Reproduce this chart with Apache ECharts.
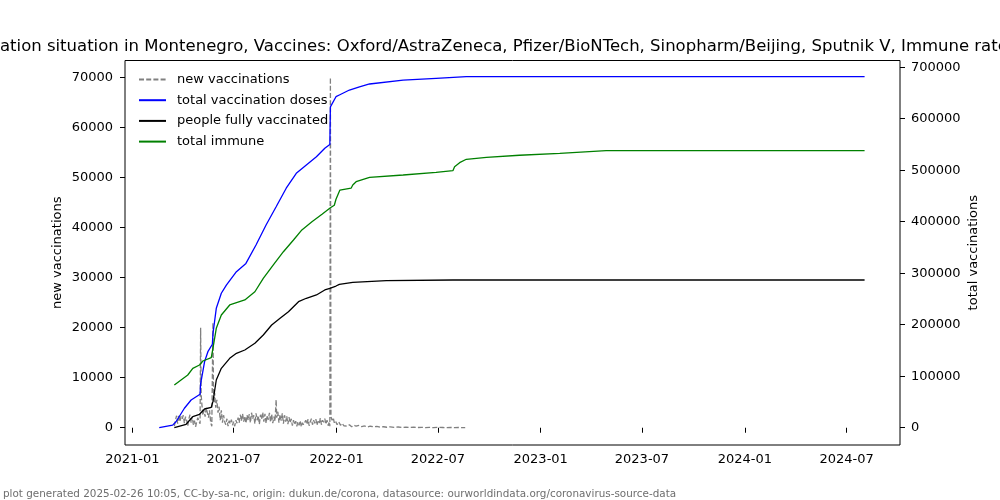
<!DOCTYPE html>
<html>
<head>
<meta charset="utf-8">
<script src="https://cdn.jsdelivr.net/npm/echarts@6/dist/echarts.min.js"></script>
<style>html,body{margin:0;padding:0;background:#fff}#c{width:1000px;height:500px}</style>
</head>
<body>
<div id="c"></div>
<script>
const titleText = 'Vaccination situation in Montenegro, Vaccines: Oxford/AstraZeneca, Pfizer/BioNTech, Sinopharm/Beijing, Sputnik V, Immune rate: 87%';
const footerText = 'plot generated 2025-02-26 10:05, CC-by-sa-nc, origin: dukun.de/corona, datasource: ourworldindata.org/coronavirus-source-data';
const seriesNames = ['new vaccinations', 'total vaccination doses', 'people fully vaccinated', 'total immune'];
const xTickLabels = ['2021-01', '2021-07', '2022-01', '2022-07', '2023-01', '2023-07', '2024-01', '2024-07'];
const leftTicks = [0, 10000, 20000, 30000, 40000, 50000, 60000, 70000];
const rightTicks = [0, 100000, 200000, 300000, 400000, 500000, 600000, 700000];

const newDates = ['2021-03-17','2021-03-19','2021-03-21','2021-03-23','2021-03-25','2021-03-27','2021-03-29','2021-03-31',
'2021-04-02','2021-04-04','2021-04-06','2021-04-08','2021-04-10','2021-04-12','2021-04-14','2021-04-16','2021-04-18','2021-04-20','2021-04-22','2021-04-24','2021-04-26','2021-04-28','2021-04-30',
'2021-05-02','2021-05-03','2021-05-04','2021-05-05','2021-05-07','2021-05-09','2021-05-11','2021-05-13','2021-05-15','2021-05-17','2021-05-19','2021-05-21','2021-05-23','2021-05-25','2021-05-26','2021-05-27','2021-05-28','2021-05-30',
'2021-06-01','2021-06-03','2021-06-05','2021-06-07','2021-06-09','2021-06-11','2021-06-13','2021-06-15','2021-06-17','2021-06-19','2021-06-21','2021-06-23','2021-06-25','2021-06-27','2021-06-29',
'2021-07-01','2021-07-03','2021-07-05','2021-07-07','2021-07-09','2021-07-11','2021-07-13','2021-07-15','2021-07-17','2021-07-19','2021-07-21','2021-07-23','2021-07-25','2021-07-27','2021-07-29','2021-07-31',
'2021-08-02','2021-08-04','2021-08-06','2021-08-08','2021-08-10','2021-08-12','2021-08-14','2021-08-16','2021-08-18','2021-08-20','2021-08-22','2021-08-24','2021-08-26','2021-08-28','2021-08-30',
'2021-09-01','2021-09-03','2021-09-05','2021-09-07','2021-09-09','2021-09-11','2021-09-13','2021-09-15','2021-09-16','2021-09-18','2021-09-20','2021-09-22','2021-09-24','2021-09-26','2021-09-28','2021-09-30',
'2021-10-02','2021-10-04','2021-10-06','2021-10-08','2021-10-10','2021-10-12','2021-10-14','2021-10-16','2021-10-18','2021-10-20','2021-10-22','2021-10-24','2021-10-26','2021-10-28','2021-10-30',
'2021-11-01','2021-11-03','2021-11-05','2021-11-07','2021-11-09','2021-11-11','2021-11-13','2021-11-15','2021-11-17','2021-11-19','2021-11-21','2021-11-23','2021-11-25','2021-11-27','2021-11-29',
'2021-12-01','2021-12-03','2021-12-05','2021-12-07','2021-12-09','2021-12-11','2021-12-13','2021-12-15','2021-12-17','2021-12-19','2021-12-20','2021-12-21','2021-12-22','2021-12-24','2021-12-26','2021-12-28','2021-12-30',
'2022-01-02','2022-01-05','2022-01-08','2022-01-11','2022-01-14','2022-01-17','2022-01-20','2022-01-24','2022-01-28',
'2022-02-01','2022-02-05','2022-02-10','2022-02-15','2022-02-20','2022-02-25','2022-03-02','2022-03-08','2022-03-14','2022-03-20','2022-03-26',
'2022-04-01','2022-04-07','2022-04-14','2022-04-21','2022-04-28','2022-05-05','2022-05-12','2022-05-19','2022-05-26',
'2022-06-02','2022-06-09','2022-06-16','2022-06-23','2022-06-30','2022-07-10','2022-07-17','2022-07-24','2022-07-31','2022-08-07','2022-08-14','2022-08-19'];
const newValues = [300,1500,2400,800,2600,1200,2300,1800,
2500,900,2200,1500,300,1800,2600,1000,2200,600,1400,200,1200,2000,1300,
800,20000,6600,5000,2500,3500,2200,4000,3000,2000,3500,1000,300,21000,7500,5000,7000,4000,
5600,3000,4200,1500,3500,1000,2500,1200,600,1800,300,1400,800,1600,500,
1200,300,1500,900,2000,1000,2600,1400,2800,1200,2300,900,2500,1500,2700,1000,
3000,1800,2500,800,2900,1500,2400,700,2600,1700,3100,1200,2800,900,2500,
1600,3000,1100,2700,900,2200,1300,5600,2000,3200,1000,2600,1400,2900,800,2500,
1200,2300,700,2100,1000,1800,400,1500,600,1300,300,1200,500,1400,200,
1000,600,300,1500,700,1700,400,1200,1800,600,1500,900,1700,500,1300,
800,1900,600,1500,1100,1800,700,1500,400,1200,300,70000,2200,1500,2000,1000,1400,
600,1200,500,900,400,700,300,600,200,
500,300,450,200,350,150,300,200,250,100,200,
100,180,80,150,60,120,50,100,40,
90,30,80,20,60,50,20,60,30,50,20,40];

const dosesDates = ['2021-02-18','2021-03-14','2021-03-20','2021-04-04','2021-04-16','2021-05-02','2021-05-03','2021-05-10','2021-05-16','2021-05-24','2021-05-25','2021-05-31',
'2021-06-09','2021-06-18','2021-07-06','2021-07-23','2021-08-10','2021-08-28','2021-09-15','2021-10-03','2021-10-21','2021-11-08','2021-11-26','2021-12-11','2021-12-20','2021-12-21','2021-12-31',
'2022-01-06','2022-01-24','2022-02-11','2022-03-01','2022-04-30','2022-06-28','2022-08-21','2024-08-02'];
const dosesValues = [0,5000,11600,37700,53800,64900,85000,128000,147600,162000,182000,231800,
261000,277000,303000,319000,354800,393600,429000,465000,494000,510000,526000,542500,550000,623000,642700,
646000,655700,662000,667400,675000,678400,681500,681500];

const fullyDates = ['2021-03-17','2021-04-07','2021-04-19','2021-05-01','2021-05-10','2021-05-22','2021-05-25','2021-05-31','2021-06-09','2021-06-24','2021-07-06','2021-07-21',
'2021-08-08','2021-08-23','2021-09-07','2021-09-22','2021-10-07','2021-10-25','2021-11-08','2021-11-26','2021-12-11','2021-12-20','2021-12-31',
'2022-01-06','2022-01-30','2022-03-31','2022-07-28','2024-08-02'];
const fullyValues = [0,6600,21400,26000,36300,39600,50500,92600,115300,134700,144500,150900,
163900,180000,199400,212400,225200,244700,251300,257700,267400,270700,275100,
278400,282300,285400,286800,286800];

const immuneDates = ['2021-03-17','2021-03-29','2021-04-10','2021-04-19','2021-05-01','2021-05-07','2021-05-22','2021-05-25','2021-05-31','2021-06-09','2021-06-24','2021-07-21',
'2021-08-08','2021-08-23','2021-09-10','2021-09-28','2021-10-16','2021-10-31','2021-11-18','2021-12-06','2021-12-21','2021-12-28','2021-12-31',
'2022-01-07','2022-01-27','2022-01-30','2022-02-05','2022-03-01','2022-04-30','2022-06-28','2022-07-28','2022-07-31','2022-08-09','2022-08-21','2022-09-26','2022-11-24',
'2023-02-04','2023-04-28','2024-08-02'];
const immuneValues = [82900,92600,102300,115300,121700,129500,135900,154200,193000,218800,238300,248000,
264000,290000,316000,341700,364500,384000,400000,414400,427000,432000,443500,
461500,465000,471300,477700,486200,490700,495900,499000,506800,514600,521200,525000,529000,
532800,537900,537900];

const DAY = 86400000;
const ts = s => Date.parse(s);
const pairs = (d, v) => d.map((s, i) => [ts(s), v[i]]);
const xMin = Date.UTC(2021, 0, 1) - 13.2 * DAY;
const xMax = Date.UTC(2024, 6, 1) + 95.3 * DAY;
const xTicks = xTickLabels.map(s => ts(s + '-01'));
const fmtDate = v => { const d = new Date(v); return d.getUTCFullYear() + '-' + String(d.getUTCMonth() + 1).padStart(2, '0'); };
const fmtNum = v => String(Math.round(v));

const FONT = 'DejaVu Sans';
const axisText = { color: '#000', fontFamily: FONT, fontSize: 13 };

const chart = echarts.init(document.getElementById('c'), null, { renderer: 'canvas' });
chart.setOption({
  animation: false,
  backgroundColor: '#fff',
  title: [{
    text: titleText, left: 501, top: 38, textAlign: 'center', padding: 0,
    textStyle: { fontFamily: FONT, fontSize: 16.5, fontWeight: 'normal', color: '#000' }
  }, {
    text: footerText, left: 3, top: 489, padding: 0,
    textStyle: { fontFamily: FONT, fontSize: 10.4, fontWeight: 'normal', color: '#6e6e6e' }
  }],
  grid: { left: 125, right: 100, top: 60.5, bottom: 55, show: true, borderColor: '#000', borderWidth: 1, backgroundColor: 'transparent' },
  legend: {
    orient: 'vertical', left: 138, top: 72.5, padding: 0, itemWidth: 27, itemHeight: 14, itemGap: 6.7,
    data: seriesNames,
    itemStyle: { opacity: 0 },
    textStyle: { fontFamily: FONT, fontSize: 13, color: '#000', padding: [0, 0, 0, 6], lineHeight: 14 }
  },
  xAxis: {
    type: 'value', min: xMin, max: xMax,
    axisLine: { show: false },
    splitLine: { show: false },
    axisTick: { show: true, length: 5, lineStyle: { color: '#000' }, customValues: xTicks },
    axisLabel: { ...axisText, margin: 8, customValues: xTicks, formatter: fmtDate }
  },
  yAxis: [{
    type: 'value', min: -3450, max: 73400, position: 'left',
    name: 'new vaccinations', nameLocation: 'middle', nameGap: 61, nameMoveOverlap: false,
    nameTextStyle: { fontFamily: FONT, fontSize: 13, color: '#000' },
    axisLine: { show: false }, splitLine: { show: false },
    axisTick: { show: true, length: 5, lineStyle: { color: '#000' }, customValues: leftTicks },
    axisLabel: { ...axisText, margin: 12, customValues: leftTicks, formatter: fmtNum }
  }, {
    type: 'value', min: -33600, max: 713000, position: 'right',
    name: 'total vaccinations', nameLocation: 'middle', nameGap: 67, nameMoveOverlap: false,
    nameTextStyle: { fontFamily: FONT, fontSize: 13, color: '#000' },
    axisLine: { show: false }, splitLine: { show: false },
    axisTick: { show: true, length: 5, lineStyle: { color: '#000' }, customValues: rightTicks },
    axisLabel: { ...axisText, margin: 11, customValues: rightTicks, formatter: fmtNum }
  }],
  series: [{
    name: seriesNames[0], type: 'line', yAxisIndex: 0, symbol: 'none', z: 1,
    data: pairs(newDates, newValues),
    lineStyle: { color: '#808080', width: 1.3, type: [5, 2.2] }, itemStyle: { color: '#808080' }
  }, {
    name: seriesNames[1], type: 'line', yAxisIndex: 1, symbol: 'none', z: 2,
    data: pairs(dosesDates, dosesValues),
    lineStyle: { color: '#0000ff', width: 1.3 }, itemStyle: { color: '#0000ff' }
  }, {
    name: seriesNames[2], type: 'line', yAxisIndex: 1, symbol: 'none', z: 2,
    data: pairs(fullyDates, fullyValues),
    lineStyle: { color: '#000000', width: 1.3 }, itemStyle: { color: '#000000' }
  }, {
    name: seriesNames[3], type: 'line', yAxisIndex: 1, symbol: 'none', z: 2,
    data: pairs(immuneDates, immuneValues),
    lineStyle: { color: '#008000', width: 1.3 }, itemStyle: { color: '#008000' }
  }]
});
</script>
</body>
</html>
